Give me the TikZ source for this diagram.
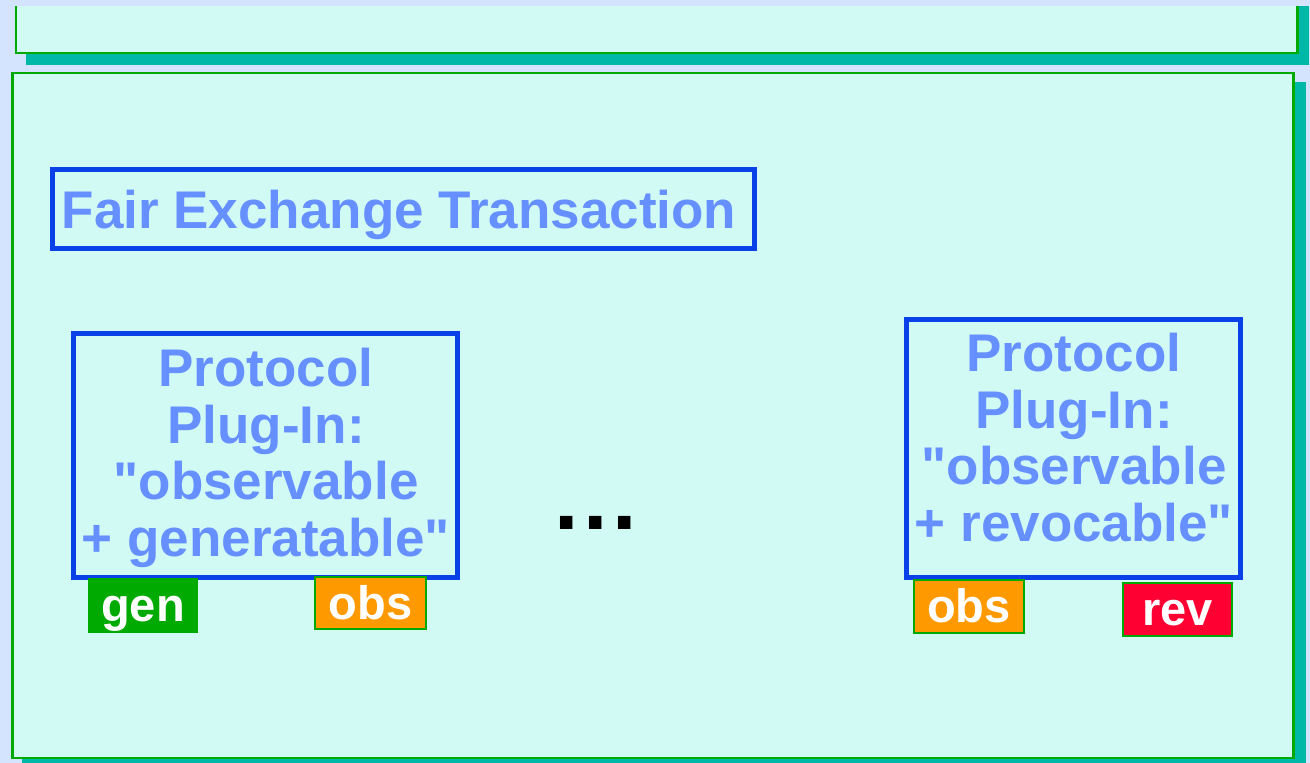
\documentclass[tikz,border=0pt]{standalone}
\usepackage{fontspec}
\setmainfont{Liberation Sans}[Ligatures=TeXOff]
\definecolor{pagebg}{HTML}{D4E4FF}
\definecolor{panelfill}{HTML}{D2FAF5}
\definecolor{panelline}{HTML}{00AA00}
\definecolor{panelshadow}{HTML}{00B8A8}
\definecolor{boxline}{HTML}{0A40E8}
\definecolor{boxtext}{HTML}{6690FF}
\definecolor{tagorange}{HTML}{FF9900}
\definecolor{tagred}{HTML}{FF0033}
\definecolor{taggreen}{HTML}{00AA00}
\tikzset{
  panel/.style={draw=panelline, fill=panelfill, line width=2.5pt, inner sep=0pt, rectangle},
  shadowbox/.style={fill=panelshadow, draw=none},
  bluebox/.style={draw=boxline, line width=5pt, inner sep=0pt, rectangle},
  bluetext/.style={text=boxtext, inner sep=0pt,
    font=\fontsize{53}{56.6}\selectfont\bfseries, align=center},
  tag/.style={line width=2pt, inner sep=0pt, rectangle, text=white,
    font=\fontsize{47}{50}\selectfont\bfseries, text height=36pt, text depth=4pt},
}
\begin{document}
\begin{tikzpicture}[x=1pt,y=-1pt]
  \useasboundingbox (0,0) rectangle (1310,763);
  \begin{scope}
    \clip (0,0) rectangle (1310,763);
    \fill[pagebg] (0,0) rectangle (1310,763);
    % upper panel, cut off at the top edge
    \begin{scope}
      \clip (0,6) rectangle (1310,763);
      \fill[shadowbox] (26,-20) rectangle (1309,65);
      \node[panel, minimum width=1281.5pt, minimum height=73pt] (upper) at (656.75,16.5) {};
    \end{scope}
    % main panel with its shadow
    \fill[shadowbox] (22,82) rectangle (1306,780);
    \node[panel, minimum width=1280.8pt, minimum height=685pt] (main) at (653.1,415.5) {};
  \end{scope}

  % title
  \node[bluebox, minimum width=702pt, minimum height=79pt] (titlebox) at (403.5,209) {};
  \node[bluetext, anchor=base] (title) at (399,228) {Fair Exchange Transaction};

  % protocol plug-in boxes
  \node[bluebox, minimum width=384pt, minimum height=244pt] (leftbox) at (265.5,455.5) {};
  \node[bluetext, anchor=north] (lefttext) at (266,348)
    {Protocol\\Plug-In:\\"observable\\+ generatable"};
  \node[bluebox, minimum width=334pt, minimum height=258pt] (rightbox) at (1073.5,448.5) {};
  \node[bluetext, anchor=north] (righttext) at (1074,333)
    {Protocol\\Plug-In:\\"observable\\+ revocable"};

  % ellipsis between the plug-ins
  \node[inner sep=0pt, anchor=base, font=\fontsize{88}{90}\selectfont\bfseries] (dots)
    at (596,529) {.\kern4.5pt.\kern4.5pt.};

  % capability tags
  \node[tag, draw=taggreen, fill=taggreen, minimum width=108pt, minimum height=53pt] (gen) at (143,605.5) {gen};
  \node[tag, draw=taggreen, fill=tagorange, minimum width=111pt, minimum height=52pt] (obsl) at (370.5,603) {obs};
  \node[tag, draw=taggreen, fill=tagorange, minimum width=110pt, minimum height=53pt] (obsr) at (969,606.5) {obs};
  \node[tag, draw=taggreen, fill=tagred, minimum width=109pt, minimum height=53pt] (rev) at (1177.5,609.5) {rev};
\end{tikzpicture}
\end{document}
